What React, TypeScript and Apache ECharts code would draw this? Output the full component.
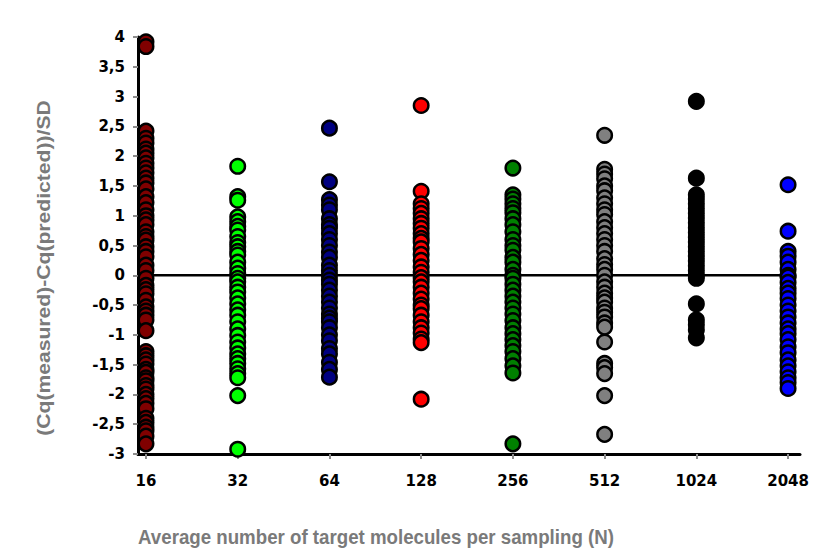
import React, { useEffect, useRef } from "react";
import * as echarts from "echarts";

// Sampling levels (average number of target molecules per sampling)
const categories = ["16", "32", "64", "128", "256", "512", "1024", "2048"];
const colors = ["#800000", "#00ff00", "#000080", "#ff0000", "#008000", "#808080", "#000000", "#0000ff"];

// Normalised Cq residuals, one array per sampling level
const res16 = [3.92, 3.84, 2.42, 2.3, 2.22, 2.12, 2.05, 1.97, 1.88, 1.8, 1.72, 1.63, 1.55, 1.45, 1.32, 1.22, 1.1, 1.0, 0.93, 0.85, 0.73, 0.65, 0.59, 0.48, 0.4, 0.31, 0.17, 0.08, -0.05, -0.17, -0.24, -0.31, -0.42, -0.53, -0.6, -0.67, -0.75, -0.93, -1.28, -1.35, -1.42, -1.49, -1.58, -1.63, -1.72, -1.77, -1.85, -1.91, -2.0, -2.07, -2.15, -2.24, -2.4, -2.47, -2.55, -2.61, -2.7, -2.83];
const res32 = [1.83, 1.32, 1.26, 0.98, 0.9, 0.82, 0.76, 0.65, 0.55, 0.48, 0.4, 0.34, 0.22, 0.12, 0.03, -0.05, -0.11, -0.2, -0.28, -0.38, -0.48, -0.58, -0.67, -0.78, -0.9, -1.01, -1.12, -1.22, -1.32, -1.4, -1.48, -1.57, -1.65, -1.72, -2.02, -2.92];
const res64 = [2.47, 1.57, 1.27, 1.18, 1.1, 0.95, 0.85, 0.79, 0.7, 0.6, 0.5, 0.39, 0.3, 0.17, 0.08, 0.0, -0.08, -0.15, -0.25, -0.35, -0.45, -0.55, -0.65, -0.72, -0.78, -0.88, -1.0, -1.1, -1.23, -1.32, -1.46, -1.58, -1.71];
const res128 = [2.85, 1.41, 1.2, 1.12, 1.04, 0.95, 0.87, 0.79, 0.7, 0.62, 0.56, 0.45, 0.35, 0.25, 0.14, 0.05, -0.04, -0.11, -0.2, -0.3, -0.4, -0.5, -0.56, -0.67, -0.78, -0.88, -0.97, -1.07, -1.13, -2.08];
const res256 = [1.8, 1.35, 1.28, 1.2, 1.12, 1.05, 0.95, 0.85, 0.73, 0.6, 0.5, 0.42, 0.3, 0.22, 0.1, 0.0, -0.05, -0.15, -0.25, -0.35, -0.45, -0.55, -0.65, -0.76, -0.88, -0.98, -1.08, -1.18, -1.28, -1.4, -1.52, -1.64, -2.83];
const res512 = [2.35, 1.78, 1.7, 1.62, 1.5, 1.42, 1.3, 1.2, 1.1, 1.02, 0.9, 0.8, 0.7, 0.6, 0.5, 0.4, 0.28, 0.18, 0.1, 0.0, -0.11, -0.2, -0.3, -0.38, -0.45, -0.55, -0.62, -0.7, -0.8, -0.87, -1.12, -1.48, -1.55, -1.65, -2.02, -2.67];
const res1024 = [2.92, 1.63, 1.35, 1.28, 1.2, 1.12, 1.04, 0.96, 0.88, 0.8, 0.72, 0.64, 0.56, 0.48, 0.4, 0.32, 0.24, 0.16, 0.08, 0.0, -0.05, -0.48, -0.75, -0.83, -0.92, -1.05];
const res2048 = [1.52, 0.74, 0.4, 0.32, 0.22, 0.1, 0.0, -0.03, -0.12, -0.22, -0.3, -0.39, -0.5, -0.6, -0.7, -0.8, -0.9, -0.98, -1.08, -1.2, -1.3, -1.42, -1.52, -1.62, -1.72, -1.8, -1.9];

const residuals = [res16, res32, res64, res128, res256, res512, res1024, res2048];
const xTickPositions = [0, 1, 2, 3, 4, 5, 6, 7];
const yTicks = [-3, -2.5, -2, -1.5, -1, -0.5, 0, 0.5, 1, 1.5, 2, 2.5, 3, 3.5, 4];

const X_MIN = -0.087;
const X_MAX = 7.13;

export default function App() {
  const ref = useRef<HTMLDivElement>(null);

  useEffect(() => {
    if (!ref.current) return;
    const chart = echarts.init(ref.current, undefined, { renderer: "svg" });

    const scatterSeries = residuals.map((vals, i) => ({
      type: "scatter",
      name: categories[i],
      data: vals.map((v) => [i, v]),
      symbol: "circle",
      symbolSize: 14.5,
      z: 3,
      itemStyle: { color: colors[i], borderColor: "#000", borderWidth: 2.5, opacity: 1 },
    }));

    chart.setOption({
      animation: false,
      grid: { left: 138, right: 14, top: 37, bottom: 105 },
      xAxis: {
        type: "value",
        min: X_MIN,
        max: X_MAX,
        splitLine: { show: false },
        axisLine: { show: true, onZero: false, lineStyle: { color: "#000", width: 3 } },
        axisTick: {
          show: true,
          customValues: xTickPositions,
          length: 5,
          lineStyle: { color: "#8c8c8c", width: 2 },
        },
        axisLabel: {
          customValues: xTickPositions,
          formatter: (v: number) => categories[Math.round(v)] ?? "",
          margin: 19,
          fontFamily: "DejaVu Sans",
          fontWeight: "bold",
          fontSize: 15,
          color: "#000",
        },
      },
      yAxis: {
        type: "value",
        min: -3,
        max: 4,
        interval: 0.5,
        splitLine: { show: false },
        axisLine: { show: true, onZero: false, lineStyle: { color: "#000", width: 3 } },
        axisTick: { show: true, length: 5, lineStyle: { color: "#8c8c8c", width: 2 } },
        axisLabel: {
          formatter: (v: number) => (yTicks.includes(v) ? String(v).replace(".", ",") : ""),
          margin: 13,
          fontFamily: "DejaVu Sans",
          fontWeight: "bold",
          fontSize: 15,
          color: "#000",
        },
      },
      graphic: [
        {
          type: "text",
          x: 43,
          y: 268,
          rotation: Math.PI / 2,
          scaleX: 1.13,
          style: {
            text: "(Cq(measured)-Cq(predicted))/SD",
            font: 'bold 18.7px "Liberation Sans", Arial, sans-serif',
            fill: "#7a7a7a",
            align: "center",
            verticalAlign: "middle",
          },
        },
        {
          type: "text",
          x: 376,
          y: 537,
          scaleY: 1.13,
          style: {
            text: "Average number of target molecules per sampling (N)",
            font: 'bold 18.7px "Liberation Sans", Arial, sans-serif',
            fill: "#7a7a7a",
            align: "center",
            verticalAlign: "middle",
          },
        },
      ],
      series: [
        {
          type: "line",
          data: [
            [X_MIN, 0],
            [7, 0],
          ],
          symbol: "none",
          silent: true,
          z: 1,
          lineStyle: { color: "#000", width: 2.5 },
        },
        ...scatterSeries,
      ],
    });

    return () => chart.dispose();
  }, []);

  return (
    <div
      ref={ref}
      style={{ position: "fixed", left: 0, top: 0, width: 814, height: 559, background: "#fff" }}
    />
  );
}
